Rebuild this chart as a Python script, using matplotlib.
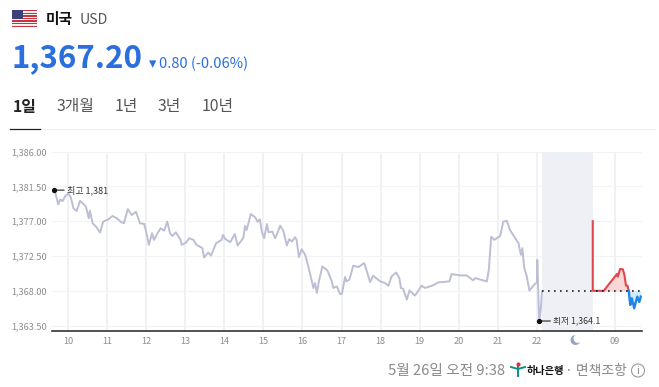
import matplotlib
matplotlib.use("Agg")
import matplotlib.pyplot as plt
from matplotlib.patches import Rectangle, Circle

plt.rcParams["font.family"] = ["Noto Sans CJK KR", "DejaVu Sans"]

# --- donnees ---
hours = [9.65, 9.69, 9.75, 9.80, 9.86, 9.93, 10.01, 10.07, 10.14, 10.22, 10.31, 10.38, 10.46, 10.53, 10.56,
         10.63, 10.73, 10.82, 10.90, 11.03, 11.14, 11.25, 11.35, 11.43, 11.53, 11.63, 11.74, 11.84, 11.95,
         12.00, 12.07, 12.15, 12.20, 12.29, 12.37, 12.46, 12.54, 12.61, 12.67, 12.76, 12.88, 12.91, 13.02,
         13.10, 13.21, 13.29, 13.44, 13.48, 13.59, 13.66, 13.79, 13.93, 13.97, 14.02, 14.15, 14.27, 14.34,
         14.45, 14.49, 14.53, 14.57, 14.68, 14.79, 14.85, 14.91, 14.96, 15.02, 15.09, 15.13, 15.23, 15.30,
         15.34, 15.43, 15.51, 15.60, 15.66, 15.73, 15.81, 15.85, 15.91, 15.98, 16.07, 16.15, 16.28, 16.32,
         16.37, 16.42, 16.51, 16.64, 16.75, 16.79, 16.88, 16.96, 17.01, 17.09, 17.13, 17.20, 17.30, 17.43,
         17.58, 17.65, 17.73, 17.81, 17.99, 18.11, 18.20, 18.28, 18.40, 18.48, 18.52, 18.58, 18.67, 18.74,
         18.88, 19.05, 19.14, 19.35, 19.48, 19.76, 19.82, 20.03, 20.20, 20.37, 20.42, 20.56, 20.72, 20.77,
         20.83, 20.91, 21.06, 21.14, 21.23, 21.31, 21.53, 21.59, 21.63, 21.67, 21.74, 21.81, 21.93, 22.00,
         22.01, 22.03, 22.06, 22.10, 22.13]
rates = [1381.01, 1380.36, 1379.17, 1379.81, 1379.59, 1380.24, 1380.58, 1380.07, 1378.65, 1378.31, 1379.63,
         1379.30, 1378.86, 1377.37, 1378.35, 1376.73, 1376.21, 1375.52, 1376.93, 1377.24, 1377.66, 1377.37,
         1376.93, 1376.73, 1378.56, 1377.79, 1378.22, 1376.73, 1376.64, 1375.65, 1373.94, 1375.44, 1374.58,
         1375.44, 1376.08, 1375.77, 1376.93, 1375.44, 1375.09, 1375.57, 1374.58, 1373.94, 1374.23, 1374.80,
         1374.58, 1373.94, 1373.51, 1372.30, 1372.95, 1372.56, 1374.15, 1374.58, 1375.22, 1374.71, 1374.28,
         1375.35, 1373.85, 1374.58, 1374.93, 1376.38, 1375.86, 1377.92, 1377.50, 1376.93, 1377.24, 1375.65,
         1374.80, 1376.64, 1375.57, 1375.65, 1374.80, 1375.22, 1376.42, 1375.77, 1373.85, 1374.67, 1374.36,
         1374.93, 1374.58, 1372.35, 1373.38, 1372.65, 1371.15, 1368.37, 1369.01, 1367.73, 1369.22, 1371.15,
         1370.63, 1369.22, 1368.37, 1368.57, 1367.60, 1367.60, 1369.78, 1369.22, 1369.44, 1371.24, 1371.07,
         1371.58, 1370.50, 1369.14, 1369.95, 1369.22, 1369.01, 1368.66, 1369.86, 1370.37, 1369.65, 1368.37,
         1368.24, 1366.86, 1368.06, 1367.38, 1368.66, 1368.37, 1368.73, 1369.09, 1369.22, 1370.17, 1369.99,
         1369.99, 1369.35, 1369.65, 1369.44, 1369.22, 1370.72, 1375.00, 1374.58, 1375.09, 1376.93, 1377.06,
         1375.86, 1374.15, 1372.65, 1373.51, 1371.15, 1369.86, 1368.02, 1368.79, 1369.09, 1372.01, 1368.57,
         1364.10, 1365.58, 1367.93]

up_hours = [23.43, 23.43, 23.71, 24.05, 24.07, 24.13, 24.20, 24.24, 24.28, 24.32, 24.35]
up_rates = [1376.99, 1368.00, 1368.00, 1370.18, 1369.83, 1370.82, 1370.78, 1370.05, 1368.67, 1368.67, 1368.00]
down_hours = [24.35, 24.39, 24.43, 24.49, 24.57, 24.62, 24.66]
down_rates = [1368.00, 1366.17, 1367.04, 1365.75, 1367.25, 1366.56, 1367.25]

prev_close = 1368.00
y_ticks = [1363.5, 1368.0, 1372.5, 1377.0, 1381.5, 1386.0]
x_ticks = [10, 11, 12, 13, 14, 15, 16, 17, 18, 19, 20, 21, 22, 24]
x_labels = ["10", "11", "12", "13", "14", "15", "16", "17", "18", "19", "20", "21", "22", "09"]
tabs = ["1일", "3개월", "1년", "3년", "10년"]
tab_x = [13, 57, 115, 158, 202]

GREY_LINE = "#bcbfd4"
GRID = "#ecedf1"
BLUE = "#2b6fdf"
RED = "#e0474c"
FALL = "#1e86e8"
W, H = 659, 387

fig = plt.figure(figsize=(W / 100, H / 100), dpi=100, facecolor="white")

# --- graphique ---
ax = fig.add_axes([52 / W, (H - 331) / H, 590 / W, 179.5 / H])
ax.set_xlim(9.59, 24.69)
ax.set_ylim(1362.81, 1386.0)
ax.axvspan(22.14, 23.43, color="#eef0f6", lw=0, zorder=1)
ax.set_xticks(x_ticks)
ax.set_xticklabels(x_labels, fontsize=6.6, color="#8d8d8d")
ax.set_yticks(y_ticks)
ax.set_yticklabels([f"{v:,.2f}" for v in y_ticks], fontsize=6.6, color="#8d8d8d")
ax.tick_params(length=0, pad=4)
ax.tick_params(axis="x", pad=4)
ax.grid(True, axis="x", color=GRID, lw=1.1, zorder=0)
ax.grid(True, axis="y", color="#f3f3f3", lw=0.8, zorder=0)
ax.set_axisbelow(True)
for side in ("top", "right", "left"):
    ax.spines[side].set_visible(False)
ax.spines["bottom"].set_color("#222222")
ax.spines["bottom"].set_linewidth(1.1)

ax.plot(hours, rates, color=GREY_LINE, lw=1.4, zorder=3)
ax.plot([22.14, 24.69], [prev_close, prev_close], color="#222222", lw=1.2, ls=(0, (1, 2.6)), zorder=5)
ax.fill_between(up_hours, up_rates, prev_close, color="#f9d7d7", lw=0, zorder=2)
ax.fill_between(down_hours, down_rates, prev_close, color="#d3e9fc", lw=0, zorder=2)
ax.plot(up_hours, up_rates, color=RED, lw=1.5, zorder=4)
ax.plot(down_hours, down_rates, color=FALL, lw=1.7, zorder=4)

# reperes haut / bas
ax.annotate("최고 1,381", xy=(hours[0], rates[0]), xytext=(9, 0), textcoords="offset points",
            fontsize=6.5, color="#333333", va="center", zorder=6,
            arrowprops=dict(arrowstyle="-", color="#222222", lw=0.8, shrinkA=0, shrinkB=0))
ax.annotate("최저 1,364.1", xy=(22.06, 1364.1), xytext=(10, 0), textcoords="offset points",
            fontsize=6.3, color="#333333", va="center", zorder=6,
            arrowprops=dict(arrowstyle="-", color="#222222", lw=0.8, shrinkA=0, shrinkB=0))
ax.plot([hours[0], 22.06], [rates[0], 1364.1], ls="none", marker="o", ms=2.8, color="#111111", zorder=6)

# --- en-tete et pied, en pixels ---
top = fig.add_axes([0, 0, 1, 1], zorder=10)
top.set_xlim(0, W)
top.set_ylim(H, 0)
top.axis("off")

# drapeau
for i in range(13):
    top.add_patch(Rectangle((12, 10 + i * 17 / 13), 25, 17 / 13, lw=0,
                            color="#c8323c" if i % 2 == 0 else "#f7f0f0"))
top.add_patch(Rectangle((12, 10), 11, 9, lw=0, color="#3c3f78"))

# lune (heures de nuit)
top.add_patch(Circle((575.5, 340), 5, lw=0, color="#9aa5c0"))
top.add_patch(Circle((578, 338.5), 4.4, lw=0, color="white"))

top.text(46, 19, "미국", fontsize=10.6, fontweight="bold", color="#111111", va="center")
top.text(80, 19.5, "USD", fontsize=10.2, color="#555555", va="center")
top.text(12, 58.5, "1,367.20", fontsize=22.5, fontweight="bold", color=BLUE, va="center")
top.text(149, 64, "▾", fontsize=10.5, color=BLUE, va="center", family="DejaVu Sans")
top.text(159, 63.5, "0.80 (-0.06%)", fontsize=10.5, color=BLUE, va="center")

for i, (label, x) in enumerate(zip(tabs, tab_x)):
    top.text(x, 107, label, fontsize=11.4, va="center",
             fontweight="bold" if i == 0 else "normal",
             color="#222222" if i == 0 else "#555555")
top.plot([40, 655], [128.5, 128.5], color="#eeeeee", lw=0.8)
top.plot([10, 40], [128.5, 128.5], color="#222222", lw=0.9)

top.text(388, 371, "5월 26일 오전 9:38", fontsize=10.6, color="#8a8a8a", va="center")
# logo de la banque
top.plot([511, 518, 525], [367, 369, 367], color="#0b8f86", lw=1.4)
top.plot([518, 518], [366, 376], color="#0b8f86", lw=1.4)
top.plot([518], [363.5], marker="o", ms=2, color="#d8333a")
top.text(527, 371, "하나은행", fontsize=7.3, fontweight="bold", color="#111111", va="center")
top.text(565, 371, "· 면책조항", fontsize=10, color="#8a8a8a", va="center")
top.add_patch(Circle((638, 370.5), 6.5, fill=False, ec="#9a9a9a", lw=0.8))
top.text(638, 370.5, "i", fontsize=7.5, color="#8a8a8a", ha="center", va="center")

fig.savefig("out.png", dpi=100)
